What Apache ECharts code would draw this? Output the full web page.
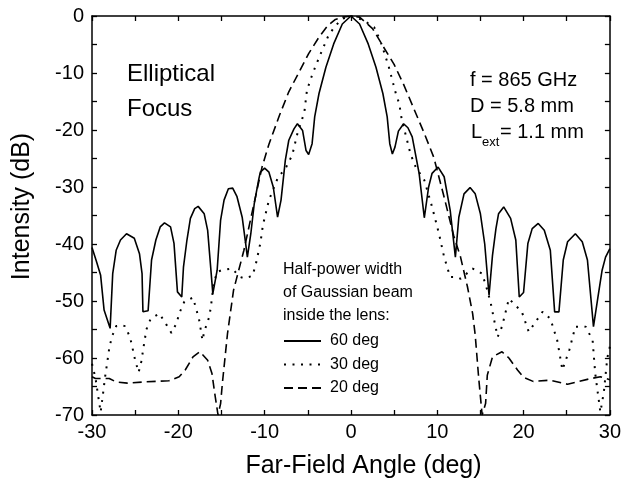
<!DOCTYPE html>
<html>
<head>
<meta charset="utf-8">
<script src="https://cdn.jsdelivr.net/npm/echarts@6/dist/echarts.min.js"></script>
<style>
html,body{margin:0;padding:0;background:#fff;}
#chart{width:624px;height:489px;}
</style>
</head>
<body>
<div id="chart"></div>
<script>
// ---- Data ----
const xTicks = [-30, -20, -10, 0, 10, 20, 30];
const yTicks = [0, -10, -20, -30, -40, -50, -60, -70];

// 60 deg half-power width (solid)
const ang60 = [-30,-29.5,-29.0,-28.6,-27.9,-27.6,-27.2,-26.7,-26.0,-25.1,-24.5,-24.2,-24.1,-23.5,-23.1,-22.6,-22.1,-21.6,-20.9,-20.5,-20.1,-19.6,-19.4,-19.0,-18.6,-18.1,-17.7,-17.0,-16.6,-16.0,-15.5,-15.1,-14.7,-14.2,-13.7,-13.2,-12.6,-12.2,-12.0,-11.6,-11.2,-10.7,-10.5,-10.0,-9.5,-9.0,-8.5,-8.1,-7.6,-7.2,-6.6,-6.2,-5.6,-5.2,-4.9,-4.5,-4.2,-3.7,-2.9,-2.0,-1.0,0,
  1.0,2.0,2.9,3.7,4.2,4.5,4.8,5.1,5.5,6.1,6.6,7.1,7.9,8.5,9.0,9.4,10.1,10.8,11.5,12.1,12.5,13.1,13.8,14.4,15.0,15.5,16.0,16.4,16.8,17.1,17.7,18.5,19.1,19.5,20.0,20.5,21.0,21.7,22.4,23.1,23.6,24.1,24.6,25.1,26.0,26.8,27.4,28.1,28.6,29.1,29.5,30];
const db60 = [-40.6,-43.0,-45.5,-51.6,-54.8,-45.2,-41.1,-39.3,-38.2,-39.0,-41.7,-45.2,-51.9,-51.7,-42.8,-39.3,-37.0,-36.3,-37.0,-39.9,-48.4,-49.3,-44.0,-39.3,-35.5,-33.8,-33.4,-34.7,-37.6,-48.7,-44.6,-35.8,-32.3,-30.3,-30.2,-31.7,-35.3,-39.9,-42.3,-38.2,-32.9,-28.8,-27.4,-26.7,-27.4,-30.0,-35.3,-32.3,-25.3,-21.8,-19.8,-18.9,-20.1,-23.6,-24.3,-22.4,-17.7,-13.6,-9.0,-4.9,-1.4,0,
  -1.4,-4.9,-9.0,-13.6,-17.7,-22.4,-24.2,-23.0,-20.2,-18.9,-19.6,-21.2,-27.6,-35.4,-30.0,-27.6,-26.5,-28.2,-34.1,-42.3,-35.3,-31.2,-30.1,-31.2,-34.7,-40.0,-49.0,-42.0,-37.3,-34.7,-33.5,-35.5,-39.3,-49.3,-48.5,-39.9,-37.3,-36.4,-37.6,-41.1,-51.9,-51.9,-42.8,-39.6,-38.2,-39.6,-42.8,-54.5,-49.5,-44.6,-42.3,-40.8];

// 30 deg half-power width (dotted)
const ang30 = [-30,-29.6,-29.2,-29.0,-28.7,-28.5,-28.2,-28.0,-27.7,-27.2,-26.6,-26.2,-25.6,-25.3,-25.0,-24.6,-24.3,-23.9,-23.7,-23.2,-22.2,-21.4,-20.8,-20.2,-19.9,-19.3,-18.3,-17.6,-17.2,-17.0,-16.4,-16.2,-15.9,-15.5,-15.0,-13.8,-12.8,-12.4,-11.4,-11.0,-10.5,-10.2,-9.5,-8.5,-7.5,-6.8,-6.2,-5.4,-5.1,-4.7,-4.1,-3.5,-2.6,-1.85,-1.0,0,
  1.0,1.6,2.7,3.4,3.9,4.4,4.8,5.2,5.6,5.9,6.3,6.9,7.5,8.5,9.4,10.2,10.8,11.5,12.3,12.7,14.1,15.2,15.8,16.2,16.6,17.0,17.5,18.3,19.8,20.6,22.2,23.1,23.9,24.5,25.3,26.0,27.2,28.0,28.3,28.9,29.3,29.7,30];
const db30 = [-61.0,-63.5,-67.5,-69.5,-66.0,-63.5,-60.4,-58.3,-56.3,-54.4,-54.2,-54.4,-56.3,-58.3,-60.4,-62.5,-60.7,-56.9,-55.0,-53.1,-52.2,-54.1,-55.6,-53.9,-52.2,-50.1,-49.4,-53.2,-56.9,-55.4,-52.7,-50.7,-46.9,-44.9,-44.6,-44.3,-45.8,-46.0,-45.6,-43.4,-39.9,-36.7,-32.3,-28.5,-26.5,-24.4,-20.6,-16.9,-13.1,-11.2,-8.8,-6.6,-3.4,-1.8,-0.5,0,
  -0.5,-0.9,-2.0,-4.3,-6.6,-9.0,-11.3,-13.6,-15.4,-18.3,-20.6,-24.2,-26.5,-28.8,-33.5,-38.2,-42.3,-45.8,-45.8,-46.1,-44.3,-45.2,-48.1,-50.4,-53.4,-56.3,-54.5,-49.6,-51.9,-55.4,-51.9,-53.1,-56.9,-62.1,-58.6,-54.5,-54.5,-56.9,-62.7,-69.5,-66.0,-60.0,-58.0];

// 20 deg half-power width (dashed)
const ang20 = [-30,-29.6,-28.0,-27.2,-25.9,-24.0,-21.1,-19.9,-19.2,-18.3,-17.5,-16.6,-16.1,-15.8,-15.4,-15.1,-14.9,-14.3,-13.6,-12.4,-11.4,-10.3,-9.5,-8.3,-7.2,-6.0,-4.9,-3.7,-2.7,-1.8,-1.0,0,
  1.0,2.5,3.6,5.0,6.1,7.3,8.5,9.6,10.8,11.9,12.7,13.5,14.1,14.4,14.8,15.2,15.6,15.8,16.4,17.5,18.3,19.3,20.0,21.1,23.1,25.1,26.2,27.8,28.9,30];
const db20 = [-63.3,-63.6,-63.6,-64.2,-64.4,-64.2,-64.0,-63.3,-62.1,-59.8,-58.9,-60.4,-62.7,-66.0,-70.0,-68.0,-64.5,-55.7,-48.1,-41.1,-34.1,-26.5,-22.5,-17.5,-13.3,-9.8,-6.6,-3.7,-1.7,-0.6,-0.2,0,
  -0.2,-2.2,-5.0,-8.5,-12.0,-16.3,-20.6,-24.8,-31.8,-38.5,-42.3,-47.5,-52.2,-56.0,-63.5,-70.0,-68.0,-63.0,-59.8,-58.9,-60.0,-62.1,-63.4,-64.1,-63.9,-64.6,-64.2,-63.6,-63.3,-63.8];

const seriesNames = ['60 deg', '30 deg', '20 deg'];
const legendTitle = ['Half-power width', 'of Gaussian beam', 'inside the lens:'];

function zip(a, b) { return a.map((x, i) => [x, b[i]]); }

const FONT = '"Liberation Sans", Arial, Helvetica, sans-serif';
const chart = echarts.init(document.getElementById('chart'), null, {renderer: 'canvas'});

const axisCommon = {
  axisLine: {show: true, onZero: false, lineStyle: {color: '#000', width: 1.5}},
  axisTick: {show: true, inside: true, length: 5, lineStyle: {color: '#000', width: 1.3}},
  splitLine: {show: false}
};

const option = {
  backgroundColor: '#fff',
  animation: false,
  grid: {left: 92, right: 12, top: 16, bottom: 74, containLabel: false},
  xAxis: [
    Object.assign({type: 'value', min: -30, max: 30, interval: 5, position: 'bottom',
      axisLabel: {show: true, margin: 7, color: '#000', fontSize: 20, fontFamily: FONT,
        formatter: v => (xTicks.indexOf(v) >= 0 ? String(v) : '')}}, axisCommon),
    Object.assign({type: 'value', min: -30, max: 30, interval: 5, position: 'top',
      axisLabel: {show: false}}, axisCommon)
  ],
  yAxis: [
    Object.assign({type: 'value', min: -70, max: 0, interval: 5, position: 'left',
      axisLabel: {show: true, margin: 8, color: '#000', fontSize: 20, fontFamily: FONT,
        formatter: v => (yTicks.indexOf(v) >= 0 ? String(v) : '')}}, axisCommon),
    Object.assign({type: 'value', min: -70, max: 0, interval: 5, position: 'right',
      axisLabel: {show: false}}, axisCommon)
  ],
  legend: {
    show: true, orient: 'vertical', left: 283, top: 333, padding: 0,
    itemWidth: 37, itemHeight: 14, itemGap: 7.5,
    itemStyle: {color: 'rgba(0,0,0,0)', borderColor: 'rgba(0,0,0,0)', borderWidth: 0},
    textStyle: {color: '#000', fontSize: 16, fontFamily: FONT, padding: [0, 0, 0, 4]},
    data: seriesNames
  },
  series: [
    {name: seriesNames[0], type: 'line', data: zip(ang60, db60), symbol: 'none', clip: true,
      lineStyle: {color: '#000', width: 1.6, type: 'solid'}, itemStyle: {color: '#000'}},
    {name: seriesNames[1], type: 'line', data: zip(ang30, db30), symbol: 'none', clip: true,
      lineStyle: {color: '#000', width: 2, type: [2, 6.5]}, itemStyle: {color: '#000'}},
    {name: seriesNames[2], type: 'line', data: zip(ang20, db20), symbol: 'none', clip: true,
      lineStyle: {color: '#000', width: 1.6, type: [9, 5]}, itemStyle: {color: '#000'}}
  ],
  graphic: [
    {type: 'text', left: 127, top: 62, style: {text: 'Elliptical', font: '24px ' + FONT, fill: '#000'}},
    {type: 'text', left: 127, top: 97, style: {text: 'Focus', font: '24px ' + FONT, fill: '#000'}},
    {type: 'text', left: 470, top: 70, style: {text: 'f = 865 GHz', font: '20px ' + FONT, fill: '#000'}},
    {type: 'text', left: 470, top: 96, style: {text: 'D = 5.8 mm', font: '20px ' + FONT, fill: '#000'}},
    {type: 'text', left: 471, top: 122, style: {text: 'L', font: '20px ' + FONT, fill: '#000'}},
    {type: 'text', left: 482, top: 136, style: {text: 'ext', font: '13px ' + FONT, fill: '#000'}},
    {type: 'text', left: 500, top: 122, style: {text: '= 1.1 mm', font: '20px ' + FONT, fill: '#000'}},
    {type: 'text', left: 283, top: 262, style: {text: legendTitle[0], font: '16px ' + FONT, fill: '#000'}},
    {type: 'text', left: 283, top: 285, style: {text: legendTitle[1], font: '16px ' + FONT, fill: '#000'}},
    {type: 'text', left: 283, top: 308, style: {text: legendTitle[2], font: '16px ' + FONT, fill: '#000'}},
    {type: 'text', x: 363.5, y: 466, style: {text: 'Far-Field Angle (deg)', font: '25px ' + FONT, fill: '#000',
      textAlign: 'center', textVerticalAlign: 'middle'}},
    {type: 'text', x: 22, y: 206.5, rotation: Math.PI / 2, style: {text: 'Intensity (dB)', font: '25px ' + FONT, fill: '#000',
      textAlign: 'center', textVerticalAlign: 'middle'}}
  ]
};
chart.setOption(option);
</script>
</body>
</html>
